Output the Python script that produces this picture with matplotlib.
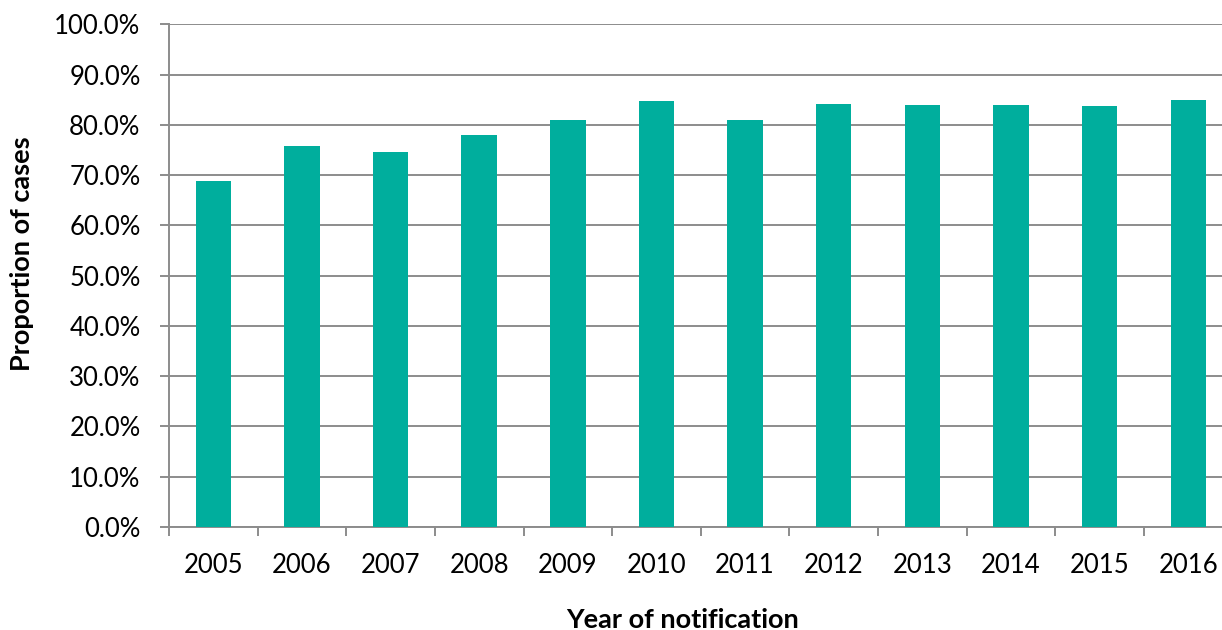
import matplotlib
matplotlib.use("Agg")
import matplotlib.pyplot as plt
from matplotlib.ticker import FuncFormatter, FixedLocator

years = ["2005", "2006", "2007", "2008", "2009", "2010", "2011", "2012", "2013", "2014", "2015", "2016"]
proportion = [68.9, 75.8, 74.6, 77.9, 80.9, 84.7, 80.9, 84.2, 83.9, 83.9, 83.7, 84.9]

W, H = 1222, 630
plt.rcParams['font.family'] = ['Lato', 'DejaVu Sans']
fig = plt.figure(figsize=(W / 100, H / 100), dpi=100)

left, right, bottom, top = 169, 1232.6, 526.8, 24.4
ax = fig.add_axes([left / W, 1 - bottom / H, (right - left) / W, (bottom - top) / H])

x = list(range(len(years)))
ax.bar(x, proportion, width=0.4, color="#00AE9D", zorder=3)

ax.set_xlim(-0.5, len(years) - 0.5)
ax.set_ylim(0, 100)
ax.set_yticks(range(0, 101, 10))
ax.yaxis.set_major_formatter(FuncFormatter(lambda v, p: f"{v:.1f}%"))
ax.set_xticks(x)
ax.set_xticklabels(years)
ax.xaxis.set_minor_locator(FixedLocator([i - 0.5 for i in range(len(years) + 1)]))

grid_c = "#8C8C8C"
ax.yaxis.grid(True, color=grid_c, linewidth=1.4, zorder=0)
ax.xaxis.grid(False)
for s in ["top", "right"]:
    ax.spines[s].set_visible(False)
for s in ["left", "bottom"]:
    ax.spines[s].set_color(grid_c)
    ax.spines[s].set_linewidth(1.4)

ax.tick_params(axis="x", which="major", length=0, pad=19, labelsize=18.5, labelcolor="black")
ax.tick_params(axis="x", which="minor", length=6.5, width=1.4, color=grid_c)
ax.tick_params(axis="y", length=6.5, width=1.4, color=grid_c, pad=14, labelsize=18.5, labelcolor="black")

fig.text(22 / W, 1 - 254 / H, "Proportion of cases", rotation=90, ha="center", va="center",
         fontsize=19.5, fontweight="bold")
fig.text(683 / W, 1 - 620 / H, "Year of notification", ha="center", va="center",
         fontsize=19.5, fontweight="bold")

fig.savefig("out.png", dpi=100)
